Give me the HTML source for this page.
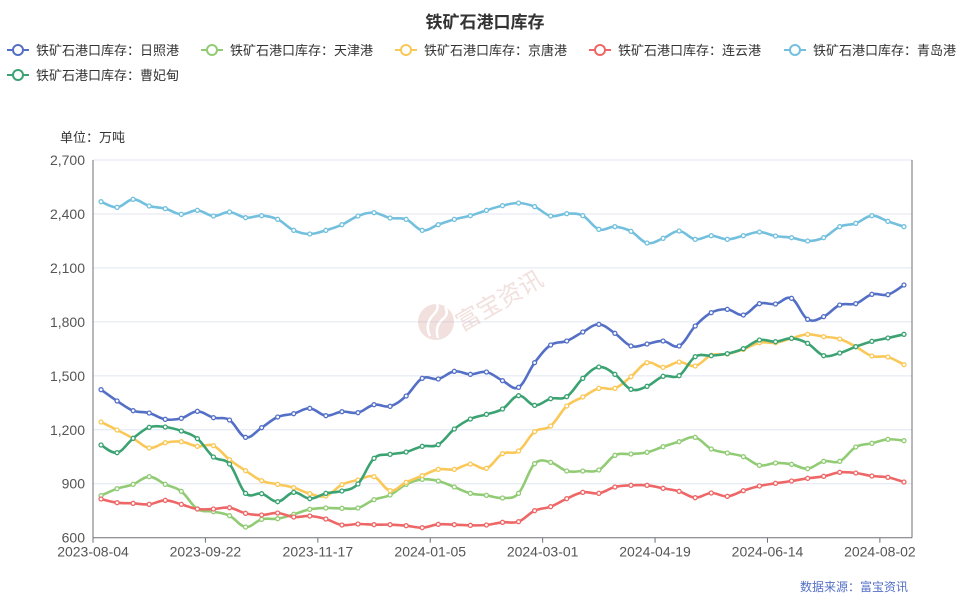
<!DOCTYPE html>
<html><head><meta charset="utf-8"><style>
body{margin:0;background:#fff;}
svg{display:block;font-family:"Liberation Sans","Noto Sans CJK SC",sans-serif;}
</style></head><body>
<svg id="c" width="971" height="600" xmlns="http://www.w3.org/2000/svg">
<text x="485" y="28" text-anchor="middle" font-size="17" font-weight="bold" fill="#333">铁矿石港口库存</text>
<g id="legend" font-size="13" fill="#333"></g>
<text x="60" y="142" font-size="13" fill="#333">单位：万吨</text>
<g id="grid"></g>
<g opacity="0.35">
<circle cx="436" cy="322" r="18" fill="#d9a7a0"/>
<path d="M430 336 q-6 -12 4 -22 q6 -6 2 -12 M438 338 q-4 -12 6 -20 q5 -5 1 -11" stroke="#fff" stroke-width="2.5" fill="none"/>
<text x="462" y="332" font-size="24" fill="#d9a7a0" transform="rotate(-30 462 332)">富宝资讯</text>
</g>
<g id="series"></g>
<text x="908" y="591" text-anchor="end" font-size="12" fill="#5470c6">数据来源：富宝资讯</text>
</svg>
<script>
const NS="http://www.w3.org/2000/svg";
function el(t,a,p){const e=document.createElementNS(NS,t);for(const k in a)e.setAttribute(k,a[k]);p.appendChild(e);return e;}
const L=93,R=912,T=160,B=537.7;
const g=document.getElementById('grid');
for(let i=0;i<=7;i++){const y=T+i*(B-T)/7;
 if(i<7)el('line',{x1:L,x2:R,y1:y,y2:y,stroke:'#e0e6f1'},g);
 const t=el('text',{x:85,y:y+5,'text-anchor':'end','font-size':14,fill:'#555'},g);
 t.textContent=(2700-i*300).toLocaleString('en-US');}
el('line',{x1:L,x2:L,y1:T,y2:B,stroke:'#6e7079'},g);
el('line',{x1:R,x2:R,y1:T,y2:B,stroke:'#6e7079'},g);
el('line',{x1:L,x2:R,y1:B,y2:B,stroke:'#6e7079'},g);
const w=(R-L)/51;
const labs=['2023-08-04','2023-09-22','2023-11-17','2024-01-05','2024-03-01','2024-04-19','2024-06-14','2024-08-02'];
labs.forEach((s,k)=>{const x=L+k*7*w;el('line',{x1:x,x2:x,y1:B,y2:B+5,stroke:'#6e7079'},g);
 const t=el('text',{x:x,y:B+19,'text-anchor':'middle','font-size':14,fill:'#555'},g);t.textContent=s;});
const A=[
[155,172,148,168,176,193,181,198,186,203,197,208,241,252,241,224,198,188,204,208,241,224,208,197,181,167],
[159,170,198,191,197,238,230,244,279,265,243,268,257,268,257,246,258,263,273,263,230,220,197,214,230]];
const S={
qd:{c:'#73c0de',a:[155,172,148,168,176,193,181,198,186,203,197,208,241,252,241,224,198,188,204,208,241,224,208,197,181,167],b:[159,170,198,191,197,238,230,244,279,265,243,268,257,268,257,246,258,263,273,263,230,220,197,214,230]},
rz:{c:'#5470c6',a:[719,753,782,789,808,805,784,803,810,862,833,801,791,775,797,785,788,764,769,738,685,687,664,673,666,692],b:[712,638,585,573,546,523,550,588,582,573,588,528,488,478,495,461,462,445,508,500,465,461,433,434,405]},
jt:{c:'#fac858',a:[816,840,865,894,878,875,889,887,929,962,992,1003,1013,1031,1038,1004,990,980,1022,997,977,958,958,942,955,911],b:[903,845,828,768,741,715,715,680,638,652,636,648,616,612,598,578,578,565,553,560,567,590,618,621,644]},
cfd:{c:'#3ba272',a:[885,908,865,832,831,843,866,921,942,1030,1031,1055,1027,1046,1030,1023,1002,925,913,906,889,884,837,807,793,777],b:[737,766,746,740,685,651,673,718,709,679,677,620,617,611,596,570,575,565,580,617,609,590,574,564,553]},
tj:{c:'#91cc75',a:[1037,1016,1003,980,1003,1024,1077,1085,1097,1131,1108,1106,1093,1078,1074,1075,1074,1049,1035,1003,988,993,1011,1030,1036,1044],b:[1030,941,937,963,963,960,916,912,907,890,875,862,897,909,920,946,939,943,956,934,934,891,880,868,872]},
lyg:{c:'#ee6666',a:[1047,1058,1060,1063,1051,1063,1077,1077,1073,1090,1095,1089,1101,1098,1107,1125,1122,1124,1124,1127,1133,1123,1124,1126,1125,1117],b:[1115,1082,1070,1046,1027,1030,1011,1006,1006,1015,1024,1043,1029,1039,1022,1008,1000,993,985,979,967,969,978,982,996]}
};
const order=['tj','lyg','jt','qd','rz','cfd'];
const sg=document.getElementById('series');
order.forEach(k=>{const s=S[k];const ys=s.a.concat(s.b).map(z=>150+z/3);
 const P=ys.map((y,i)=>[L+(i+0.5)*w,y]);
 let d='M'+P[0][0]+' '+P[0][1];const t=0.18;
 for(let i=0;i<P.length-1;i++){const p0=P[Math.max(0,i-1)],p1=P[i],p2=P[i+1],p3=P[Math.min(P.length-1,i+2)];
  const c1=[p1[0]+(p2[0]-p0[0])*t,p1[1]+(p2[1]-p0[1])*t],c2=[p2[0]-(p3[0]-p1[0])*t,p2[1]-(p3[1]-p1[1])*t];
  d+=` C${c1[0]} ${c1[1]} ${c2[0]} ${c2[1]} ${p2[0]} ${p2[1]}`;}
 el('path',{d:d,fill:'none',stroke:s.c,'stroke-width':2.6},sg);
 P.forEach(p=>el('circle',{cx:p[0],cy:p[1],r:2,fill:'#fff',stroke:s.c,'stroke-width':1.3},sg));
});
const lg=document.getElementById('legend');
const items=[['rz','日照港',7,50],['tj','天津港',201,50],['jt','京唐港',395,50],['lyg','连云港',589,50],['qd','青岛港',784,50],['cfd','曹妃甸',7,75]];
items.forEach(([k,n,x,y])=>{const c=S[k].c;
 el('line',{x1:x,x2:x+22,y1:y,y2:y,stroke:c,'stroke-width':2},lg);
 el('circle',{cx:x+11,cy:y,r:5,fill:'#fff',stroke:c,'stroke-width':2},lg);
 const t=el('text',{x:x+29,y:y+5,'font-size':13,fill:'#333'},lg);t.textContent='铁矿石港口库存：'+n;});
</script>
</body></html>
